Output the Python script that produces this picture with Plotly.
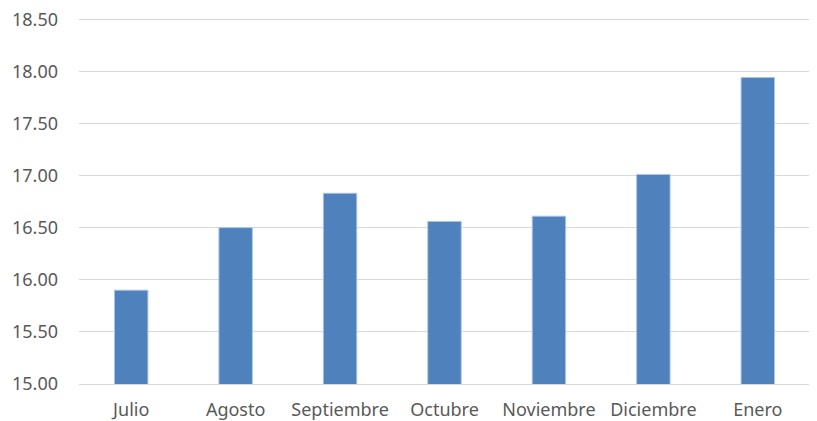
import plotly.graph_objects as go

months = ["Julio", "Agosto", "Septiembre", "Octubre", "Noviembre", "Diciembre", "Enero"]
values = [15.90, 16.50, 16.83, 16.56, 16.61, 17.01, 17.94]
y_ticks = [15.0, 15.5, 16.0, 16.5, 17.0, 17.5, 18.0, 18.5]
y_tick_labels = ["15.00", "15.50", "16.00", "16.50", "17.00", "17.50", "18.00", "18.50"]

fig = go.Figure(go.Bar(
    x=months, y=values,
    marker=dict(color="#4F81BD", line=dict(color="#A9C3E3", width=1)),
))

# page body adds an 8px margin, so the figure is sized to fit inside the window
fig.update_layout(
    width=809, height=413,
    margin=dict(l=71, r=7, t=6, b=37),
    plot_bgcolor="white", paper_bgcolor="white",
    bargap=0.68,
    showlegend=False,
    font=dict(family="Noto Sans", size=18, color="#595959"),
)
fig.update_xaxes(
    showgrid=False, showline=True, linecolor="#D9D9D9", linewidth=1,
    ticks="", ticklabelstandoff=9, automargin=False,
)
fig.update_yaxes(
    range=[15, 18.55], tickvals=y_ticks, ticktext=y_tick_labels,
    showgrid=True, gridcolor="#D9D9D9", gridwidth=1,
    zeroline=False, showline=False, ticks="", ticklabelstandoff=20,
    automargin=False, ticklabeloverflow="allow",
)

fig.write_html("out.html")
